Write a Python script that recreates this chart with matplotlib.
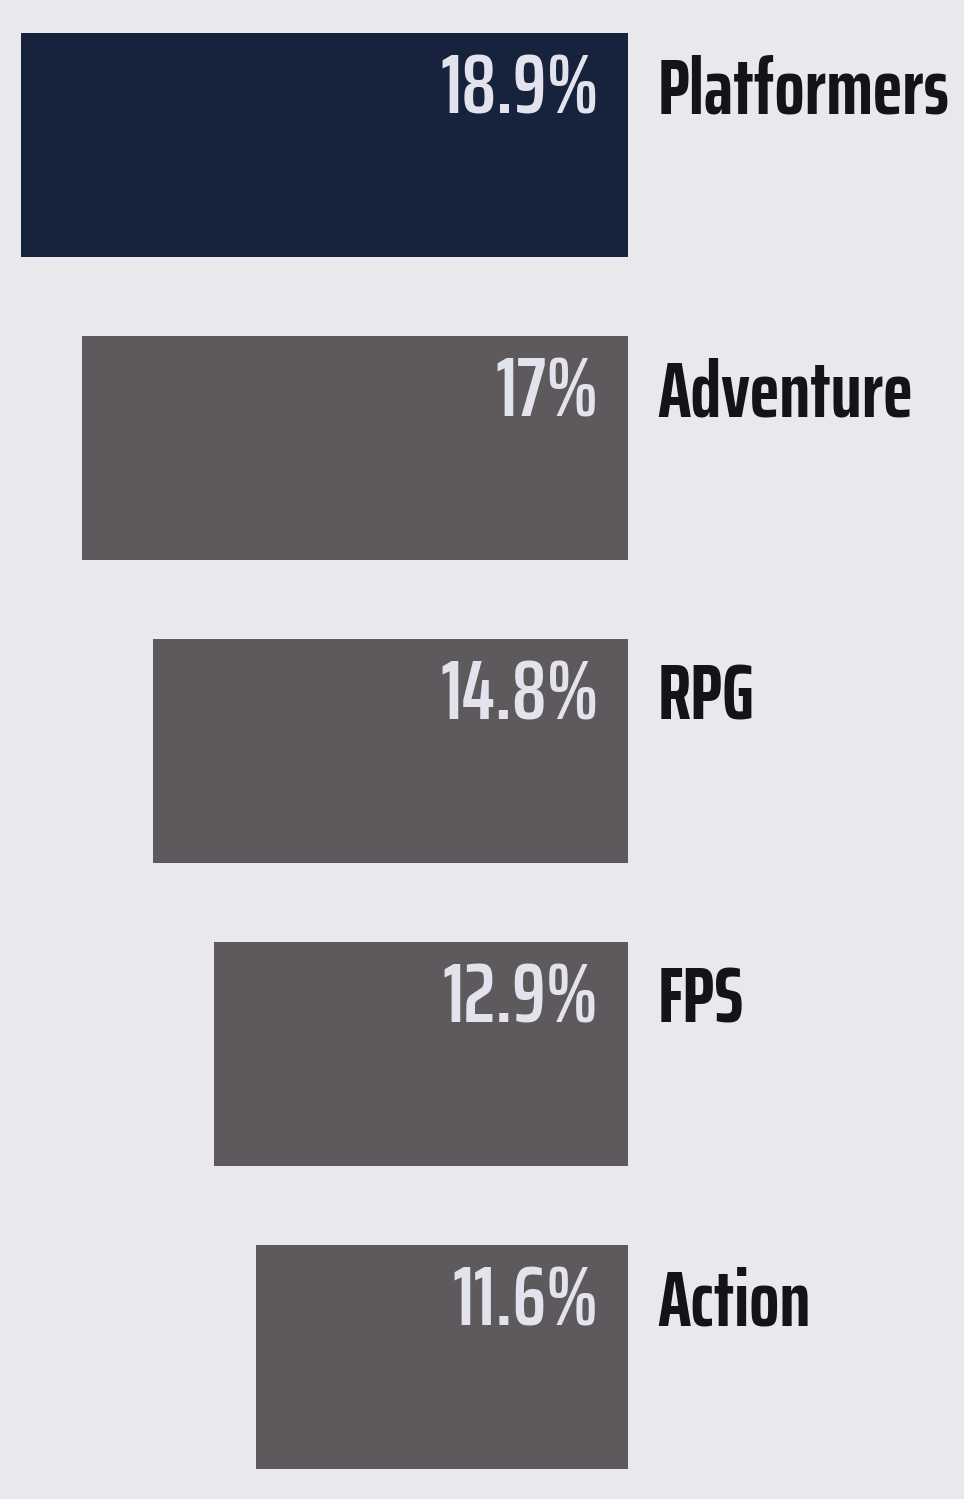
import matplotlib.pyplot as plt

genres = ['Platformers', 'Adventure', 'RPG', 'FPS', 'Action']
shares = [18.9, 17.0, 14.8, 12.9, 11.6]
share_labels = ['18.9%', '17%', '14.8%', '12.9%', '11.6%']
bar_colors = ['#17223c', '#5e595c', '#5e595c', '#5e595c', '#5e595c']

W, H = 964, 1499
fig = plt.figure(figsize=(W / 100, H / 100), dpi=100, facecolor='#e9e8ed')

# bars grow leftwards from a shared right edge at x=628px
ax = fig.add_axes([0, 0, 628 / W, 1])
ax.set_facecolor('none')
y = list(range(len(genres)))
ax.barh(y, shares, height=0.736, color=bar_colors)
ax.set_xlim(628 / 32.1, 0)
ax.set_ylim((H - 145) / 303, -145 / 303)
ax.axis('off')

font = ['Saira ExtraCondensed', 'DejaVu Sans']
for i, (lab, name) in enumerate(zip(share_labels, genres)):
    ax.annotate(lab, (0, i), xytext=(-21, 23), textcoords='offset points',
                ha='right', va='baseline', fontsize=61, fontweight='semibold',
                color='#e2e3ec', family=font)
    ax.annotate(name, (0, i), xytext=(21, 23), textcoords='offset points',
                ha='left', va='baseline', fontsize=57, fontweight='bold',
                color='#141416', family=font, annotation_clip=False)

fig.savefig('out.png', dpi=100, facecolor=fig.get_facecolor())
